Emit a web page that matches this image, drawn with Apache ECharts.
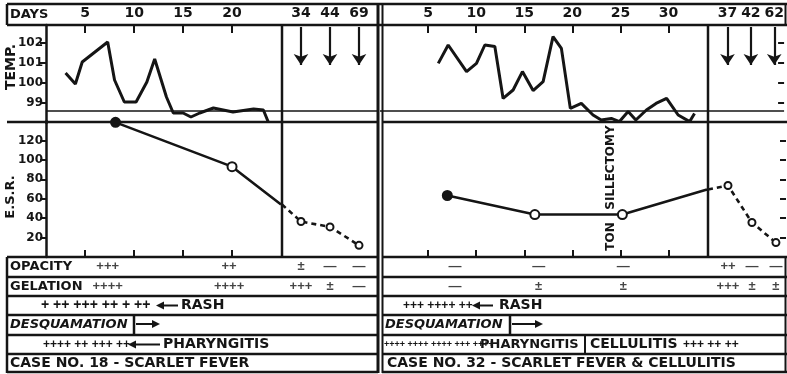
<!DOCTYPE html>
<html>
<head>
<meta charset="utf-8">
<script src="https://cdn.jsdelivr.net/npm/echarts@6/dist/echarts.min.js"></script>
<style>
  html, body { margin: 0; padding: 0; background: #fff; }
  #chart { width: 787px; height: 374px; }
</style>
</head>
<body>
<div id="chart"></div>
<script>
const INK = '#151515';
const WORD = 'DejaVu Sans';
const MARK = 'Liberation Sans';

// case 18 (left)
const c18TempDays = [3, 4, 4.7, 7.3, 8, 9, 10.2, 11.3, 12.1, 13.3, 14, 15, 15.8, 16.7, 18.1, 20.1, 22.2, 23.2, 23.7];
const c18Temps = [100.5, 99.95, 101.05, 102.05, 100.15, 99.05, 99.05, 100.05, 101.2, 99.3, 98.5, 98.5, 98.3, 98.5, 98.75, 98.55, 98.7, 98.65, 98.05];
const c18EsrDays = [8.1, 20];
const c18Esr = [138.6, 93];
const c18EsrFilled = [true, false];
const c18EsrAtEdge = 54;
const c18LaterDays = ['34', '44', '69'];
const c18LaterEsr = [36.5, 31, 12];
const c18RowDays = [7.3, 19.7];
const c18Opacity = ['+++', '++'];
const c18Gelation = ['++++', '++++'];
const c18LaterOpacity = ['±', '—', '—'];
const c18LaterGelation = ['+++', '±', '—'];

// case 32 (right)
const c32TempDays = [6.06, 7.09, 9.0, 10.03, 10.9, 11.94, 12.8, 13.84, 14.81, 15.92, 16.96, 17.99, 18.86, 19.79, 20.93, 22.15, 23.0, 24.05, 24.9, 25.8, 26.6, 27.7, 28.7, 29.8, 31.0, 32.2, 32.7];
const c32Temps = [100.98, 101.9, 100.57, 100.98, 101.9, 101.82, 99.23, 99.65, 100.57, 99.62, 100.07, 102.32, 101.73, 98.73, 98.98, 98.4, 98.15, 98.23, 98.07, 98.57, 98.15, 98.65, 98.98, 99.23, 98.4, 98.07, 98.48];
const c32EsrDays = [7.0, 16.1, 25.2];
const c32Esr = [63.3, 43.7, 43.7];
const c32EsrFilled = [true, false, false];
const c32EsrAtEdge = 69.5;
const c32LaterDays = ['37', '42', '62'];
const c32LaterEsr = [73.6, 35.5, 14.8];
const c32RowDays = [7.8, 16.5, 25.3];
const c32Opacity = ['—', '—', '—'];
const c32Gelation = ['—', '±', '±'];
const c32LaterOpacity = ['++', '—', '—'];
const c32LaterGelation = ['+++', '±', '±'];

const tempTicks = [99, 100, 101, 102];
const esrTicks = [20, 40, 60, 80, 100, 120];
const rowNames = ['OPACITY', 'GELATION'];
const normalTemp = 98.6;
const arrowTop = 102.8, arrowTip = 100.9;

const grid = [], xAxis = [], yAxis = [], series = [];
function addGrid(g, x, y) {
  const i = grid.length;
  grid.push(g);
  xAxis.push(Object.assign({ gridIndex: i, splitLine: { show: false } }, x));
  yAxis.push(Object.assign({ gridIndex: i, splitLine: { show: false } }, y));
  return i;
}
const bold = { color: INK, fontFamily: WORD, fontWeight: 'bold' };
const tick = (vals, inside, len) => ({ show: true, customValues: vals, inside, length: len, lineStyle: { color: INK, width: 2 } });
const noLine = { show: false, onZero: false };

function panel(p) {
  const left = p.labels;
  // temperature, main days
  let g = addGrid({ left: p.mainLeft, top: 25, width: p.mainWidth, height: 98 },
    { type: 'value', min: p.dayMin, max: p.dayMax, position: 'top', axisLine: noLine,
      axisTick: tick(p.dayTicks, true, 8),
      axisLabel: Object.assign({ customValues: p.dayTicks, margin: 5, fontSize: 14 }, bold) },
    { type: 'value', min: 98, max: 102.9, axisLine: { show: left, onZero: false, lineStyle: { color: INK, width: 2.5 } },
      axisTick: Object.assign(tick(tempTicks, false, 6), { show: left }),
      axisLabel: Object.assign({ show: left, customValues: tempTicks, margin: 3, fontSize: 12 }, bold) });
  series.push({ type: 'line', xAxisIndex: g, yAxisIndex: g, symbol: 'none',
    data: p.tempDays.map((d, i) => [d, p.temps[i]]),
    lineStyle: { color: INK, width: 3 },
    markLine: { silent: true, symbol: 'none', label: { show: false },
      lineStyle: { color: INK, width: 1.6, type: 'solid' }, data: [{ yAxis: normalTemp }] } });

  // temperature, later days (arrows)
  g = addGrid({ left: p.extLeft, top: 25, width: p.extWidth, height: 98 },
    { type: 'value', min: p.slotMin, max: p.slotMax, position: 'top', axisLine: noLine, axisTick: { show: false },
      axisLabel: Object.assign({ customValues: [0, 1, 2], formatter: v => p.laterDays[Math.round(v)], margin: 5, fontSize: 14 }, bold) },
    left ? { type: 'value', min: 98, max: 102.9, show: false }
         : { type: 'value', min: 98, max: 102.9, position: 'right', axisLine: noLine,
             axisTick: tick(tempTicks, true, 6), axisLabel: { show: false } });
  series.push({ type: 'line', xAxisIndex: g, yAxisIndex: g, data: [],
    markLine: { silent: true, symbol: ['none', 'arrow'], symbolSize: 11, label: { show: false },
      lineStyle: { color: INK, width: 2.2, type: 'solid' },
      data: p.laterDays.map((d, i) => [{ coord: [i, arrowTop] }, { coord: [i, arrowTip] }]) } });
  series.push({ type: 'line', xAxisIndex: g, yAxisIndex: g, data: [],
    markLine: { silent: true, symbol: 'none', label: { show: false },
      lineStyle: { color: INK, width: 1.6, type: 'solid' }, data: [{ yAxis: normalTemp }] } });

  // E.S.R., main days
  g = addGrid({ left: p.mainLeft, top: 121, width: p.mainWidth, height: 136 },
    { type: 'value', min: p.dayMin, max: p.dayMax, position: 'bottom', axisLine: noLine,
      axisTick: tick(p.dayTicks, true, 7), axisLabel: { show: false } },
    { type: 'value', min: 0, max: 140, axisLine: { show: left, onZero: false, lineStyle: { color: INK, width: 2.5 } },
      axisTick: Object.assign(tick(esrTicks, false, 6), { show: left }),
      axisLabel: Object.assign({ show: left, customValues: esrTicks, margin: 3, fontSize: 12 }, bold) });
  series.push({ type: 'line', xAxisIndex: g, yAxisIndex: g, showAllSymbol: true, symbolSize: 9,
    data: p.esrDays.map((d, i) => ({ value: [d, p.esr[i]], symbol: p.esrFilled[i] ? 'circle' : 'emptyCircle' }))
      .concat([{ value: [p.dayMax, p.esrAtEdge], symbol: 'none' }]),
    itemStyle: { color: INK, borderColor: INK, borderWidth: 2 },
    lineStyle: { color: INK, width: 2.6 } });

  // E.S.R., later days
  g = addGrid({ left: p.extLeft, top: 121, width: p.extWidth, height: 136 },
    { type: 'value', min: p.slotMin, max: p.slotMax, show: false },
    left ? { type: 'value', min: 0, max: 140, show: false }
         : { type: 'value', min: 0, max: 140, position: 'right', axisLine: noLine,
             axisTick: tick(esrTicks, true, 6), axisLabel: { show: false } });
  series.push({ type: 'line', xAxisIndex: g, yAxisIndex: g, showAllSymbol: true, symbol: 'emptyCircle', symbolSize: 7,
    data: [{ value: [p.slotMin, p.esrAtEdge], symbol: 'none' }]
      .concat(p.laterEsr.map((v, i) => [i, v])),
    itemStyle: { color: INK, borderColor: INK, borderWidth: 2 },
    lineStyle: { color: INK, width: 2.6, type: [5, 4] } });

  // opacity / gelation rows
  const rowLabel = { show: true, position: 'inside', color: INK, fontFamily: MARK, fontWeight: 'bold', fontSize: 13 };
  const rowSeries = (gi, xs, a, b) => {
    const texts = a.concat(b);
    series.push({ type: 'scatter', xAxisIndex: gi, yAxisIndex: gi, symbolSize: 1, silent: true,
      itemStyle: { color: 'rgba(0,0,0,0)' },
      data: xs.map(d => [d, 0]).concat(xs.map(d => [d, 1])),
      label: Object.assign({ formatter: q => texts[q.dataIndex] }, rowLabel) });
  };
  g = addGrid({ left: p.mainLeft, top: 257, width: p.mainWidth, height: 39 },
    { type: 'value', min: p.dayMin, max: p.dayMax, show: false },
    { type: 'category', data: rowNames, inverse: true, axisLine: noLine, axisTick: { show: false },
      axisLabel: Object.assign({ show: left, align: 'left', margin: 36, fontSize: 13 }, bold) });
  rowSeries(g, p.rowDays, p.opacity, p.gelation);
  g = addGrid({ left: p.extLeft, top: 257, width: p.extWidth, height: 39 },
    { type: 'value', min: p.slotMin, max: p.slotMax, show: false },
    { type: 'category', data: rowNames, inverse: true, show: false });
  rowSeries(g, [0, 1, 2], p.laterOpacity, p.laterGelation);
}

panel({ labels: true, mainLeft: 46, mainWidth: 235, dayMin: 1, dayMax: 25, dayTicks: [5, 10, 15, 20],
  extLeft: 282, extWidth: 96, slotMin: -0.655, slotMax: 2.655,
  tempDays: c18TempDays, temps: c18Temps, esrDays: c18EsrDays, esr: c18Esr, esrFilled: c18EsrFilled,
  esrAtEdge: c18EsrAtEdge, laterDays: c18LaterDays, laterEsr: c18LaterEsr, rowDays: c18RowDays,
  opacity: c18Opacity, gelation: c18Gelation, laterOpacity: c18LaterOpacity, laterGelation: c18LaterGelation });
panel({ labels: false, mainLeft: 380, mainWidth: 327, dayMin: 0, dayMax: 34, dayTicks: [5, 10, 15, 20, 25, 30],
  extLeft: 708, extWidth: 78, slotMin: -0.833, slotMax: 2.42,
  tempDays: c32TempDays, temps: c32Temps, esrDays: c32EsrDays, esr: c32Esr, esrFilled: c32EsrFilled,
  esrAtEdge: c32EsrAtEdge, laterDays: c32LaterDays, laterEsr: c32LaterEsr, rowDays: c32RowDays,
  opacity: c32Opacity, gelation: c32Gelation, laterOpacity: c32LaterOpacity, laterGelation: c32LaterGelation });

// frame and hand lettering
const seg = (x1, y1, x2, y2, w) => ({ type: 'line', silent: true, z: 10,
  shape: { x1, y1, x2, y2 }, style: { stroke: INK, lineWidth: w || 2.5 } });
const txt = (x, y, text, size, opt) => Object.assign({ type: 'text', silent: true, z: 10, x, y,
  style: { text, fill: INK, font: 'bold ' + size + 'px "' + WORD + '"', align: 'left', verticalAlign: 'middle' } }, opt || {});
const upText = (x, y, text, size) => ({ type: 'text', silent: true, z: 10, x, y, rotation: Math.PI / 2,
  style: { text, fill: INK, font: 'bold ' + size + 'px "' + WORD + '"', align: 'center', verticalAlign: 'middle' } });
const italic = (x, y, text, size) => ({ type: 'text', silent: true, z: 10, x, y,
  style: { text, fill: INK, font: 'italic bold ' + size + 'px "' + WORD + '"', align: 'left', verticalAlign: 'middle' } });
const marks = (x, y, text, size) => ({ type: 'text', silent: true, z: 10, x, y,
  style: { text, fill: INK, font: 'bold ' + size + 'px "' + MARK + '"', align: 'left', verticalAlign: 'middle' } });
const arrow = (x1, x2, y) => {
  const d = x2 > x1 ? 1 : -1;
  return [seg(x1, y, x2 - d * 4, y, 2),
    { type: 'polygon', silent: true, z: 10, shape: { points: [[x2, y], [x2 - d * 8, y - 4], [x2 - d * 8, y + 4]] }, style: { fill: INK } }];
};

const rowLines = [257, 277, 296, 315, 335, 354, 372];
const graphic = [
  seg(7, 4, 787, 4), seg(7, 25, 787, 25),
  seg(7, 4, 7, 25), seg(7, 257, 7, 373),
  seg(785.5, 4, 785.5, 25, 2), seg(785.5, 257, 785.5, 373, 2),
  seg(378, 4, 378, 373, 3), seg(382.5, 4, 382.5, 373, 2),
  seg(282, 25, 282, 257), seg(708, 25, 708, 257),
  seg(7, 122, 378, 122), seg(382, 122, 787, 122),
  ...rowLines.map(y => seg(7, y, 378, y)),
  ...rowLines.map(y => seg(382, y, 787, y)),
  seg(134, 315, 134, 335), seg(510, 315, 510, 335), seg(585, 335, 585, 354, 2),

  txt(10, 15, 'DAYS', 13),
  upText(11, 67, 'TEMP.', 14),
  upText(11, 197, 'E.S.R.', 13),
  upText(611, 188, 'TON   SILLECTOMY', 12),

  marks(41, 305.5, '+ ++ +++ ++ + ++', 14), ...arrow(178, 156, 305.5), txt(181, 305.5, 'RASH', 14),
  italic(10, 325, 'DESQUAMATION', 13), ...arrow(136, 160, 324),
  marks(43, 344.5, '++++ ++ +++ ++', 12), ...arrow(160, 128, 344.5), txt(163, 344.5, 'PHARYNGITIS', 14),
  txt(10, 363.5, 'CASE NO. 18 - SCARLET FEVER', 14),

  marks(403, 305.5, '+++ ++++ ++', 12), ...arrow(493, 472, 305.5), txt(499, 305.5, 'RASH', 14),
  italic(385, 325, 'DESQUAMATION', 13), ...arrow(512, 543, 324),
  marks(384, 344.5, '++++ ++++ ++++ +++ ++++', 9), txt(480, 344.5, 'PHARYNGITIS', 13),
  txt(590, 344.5, 'CELLULITIS', 14), marks(683, 344.5, '+++ ++ ++', 12),
  txt(387, 363.5, 'CASE NO. 32 - SCARLET FEVER & CELLULITIS', 14)
];

const chart = echarts.init(document.getElementById('chart'));
chart.setOption({ animation: false, backgroundColor: '#fff', grid, xAxis, yAxis, series, graphic });
</script>
</body>
</html>
